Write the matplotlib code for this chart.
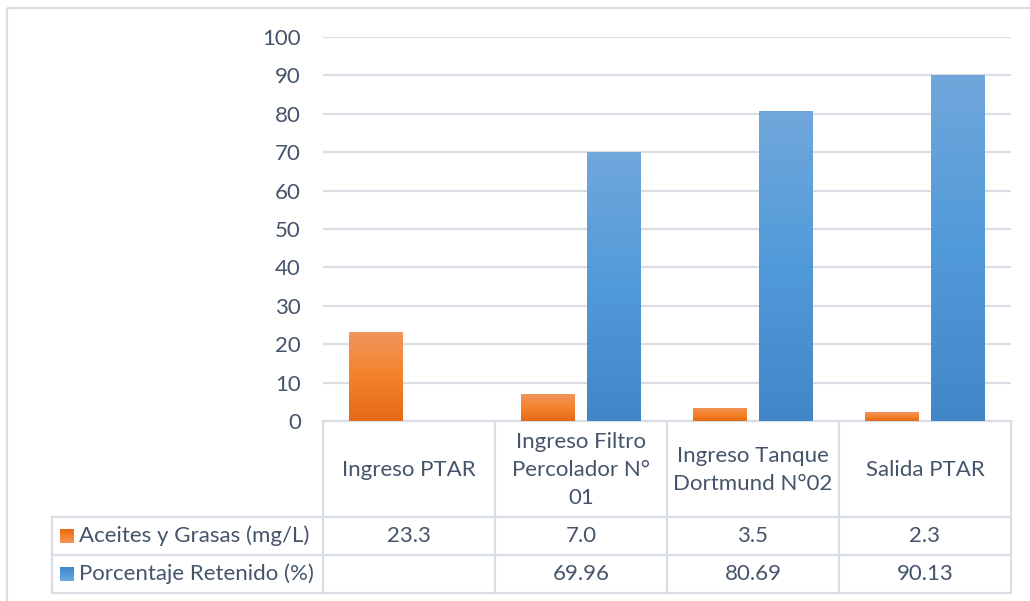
import numpy as np
import matplotlib.pyplot as plt
from matplotlib.lines import Line2D
from matplotlib.patches import Rectangle
from matplotlib.colors import LinearSegmentedColormap

categories = ["Ingreso PTAR", "Ingreso Filtro\nPercolador N°\n01",
              "Ingreso Tanque\nDortmund N°02", "Salida PTAR"]
series_names = ["Aceites y Grasas (mg/L)", "Porcentaje Retenido (%)"]
aceites = [23.3, 7.0, 3.5, 2.3]
retenido = [np.nan, 69.96, 80.69, 90.13]
aceites_txt = ["23.3", "7.0", "3.5", "2.3"]
retenido_txt = ["", "69.96", "80.69", "90.13"]
yticks = list(range(0, 101, 10))

TEXT = "#44546A"
GRID = "#D9DEE4"
FONT = ["Lato", "DejaVu Sans"]
orange_cm = LinearSegmentedColormap.from_list("og", ["#E46A16", "#F5822A", "#F0955E"])
blue_cm = LinearSegmentedColormap.from_list("bl", ["#4386C8", "#519AD9", "#70A7DC"])

W, H = 1030, 601
fig = plt.figure(figsize=(W / 100, H / 100), dpi=100)

# pixel layout
x0, x1 = 323, 1011
y_top, y_zero = 37, 421
ax = fig.add_axes([x0 / W, 1 - y_zero / H, (x1 - x0) / W, (y_zero - y_top) / H])
ax.set_xlim(-0.5, len(categories) - 0.5)
ax.set_ylim(0, 100)
for s in ax.spines.values():
    s.set_visible(False)
ax.set_yticks(yticks)
ax.yaxis.grid(True, color=GRID, linewidth=1.6)
ax.set_axisbelow(True)
fs = 16
ax.tick_params(axis="y", length=0, pad=16, labelsize=fs, labelcolor=TEXT)
ax.tick_params(axis="x", bottom=False, labelbottom=False)
for lab in ax.get_yticklabels():
    lab.set_family(FONT)


def grad_bar(xc, h, width, cmap):
    if np.isnan(h):
        return
    bar = ax.bar(xc, h, width=width, color="none", linewidth=0)[0]
    grad = np.linspace(0, 1, 256).reshape(-1, 1)
    im = ax.imshow(grad, cmap=cmap, origin="lower", aspect="auto",
                   extent=(xc - width / 2, xc + width / 2, 0, h), zorder=2)
    im.set_clip_path(bar)


bw = 54 / 172
off = 33 / 172
idx = np.arange(len(categories))
for i in idx:
    grad_bar(i - off, aceites[i], bw, orange_cm)
    grad_bar(i + off, retenido[i], bw, blue_cm)
ax.set_xlim(-0.5, len(categories) - 0.5)
ax.set_ylim(0, 100)

# data table drawn in pixel coordinates
tab = fig.add_axes([0, 0, 1, 1], zorder=-1)
tab.set_xlim(0, W)
tab.set_ylim(H, 0)
tab.axis("off")
lw = 1.6
cw = (x1 - x0) / len(categories)
r0, r1, r2, r3 = y_zero, 517, 555, 593
lab_x = 52


def hline(y, xa, xb):
    tab.add_line(Line2D([xa, xb], [y, y], color=GRID, lw=lw))


def vline(x, ya, yb):
    tab.add_line(Line2D([x, x], [ya, yb], color=GRID, lw=lw))


hline(r0, x0, x1)
for y in (r1, r2, r3):
    hline(y, lab_x, x1)
for k in range(len(categories) + 1):
    vline(x0 + k * cw, r0, r3)
vline(lab_x, r1, r3)

# outer chart border
tab.add_patch(Rectangle((7, 8), W, H, fill=False, edgecolor=GRID, lw=1.6))

for k, cat in enumerate(categories):
    cx = x0 + (k + 0.5) * cw
    tab.text(cx, (r0 + r1) / 2 + 1, cat, ha="center", va="center", fontsize=fs,
             color=TEXT, family=FONT, linespacing=1.5)
    tab.text(cx, (r1 + r2) / 2, aceites_txt[k], ha="center", va="center",
             fontsize=fs, color=TEXT, family=FONT)
    tab.text(cx, (r2 + r3) / 2, retenido_txt[k], ha="center", va="center",
             fontsize=fs, color=TEXT, family=FONT)

# legend keys inside the row headers
for (ya, yb), name, cm in [((r1, r2), series_names[0], orange_cm),
                           ((r2, r3), series_names[1], blue_cm)]:
    yc = (ya + yb) / 2
    g = np.linspace(0, 1, 64).reshape(-1, 1)
    tab.imshow(g, cmap=cm, origin="upper", aspect="auto",
               extent=(60, 74, yc + 7, yc - 7), zorder=3)
    tab.text(79, yc, name, ha="left", va="center", fontsize=fs,
             color=TEXT, family=FONT)
tab.set_xlim(0, W)
tab.set_ylim(H, 0)

fig.savefig("out.png", dpi=100, facecolor="white")
